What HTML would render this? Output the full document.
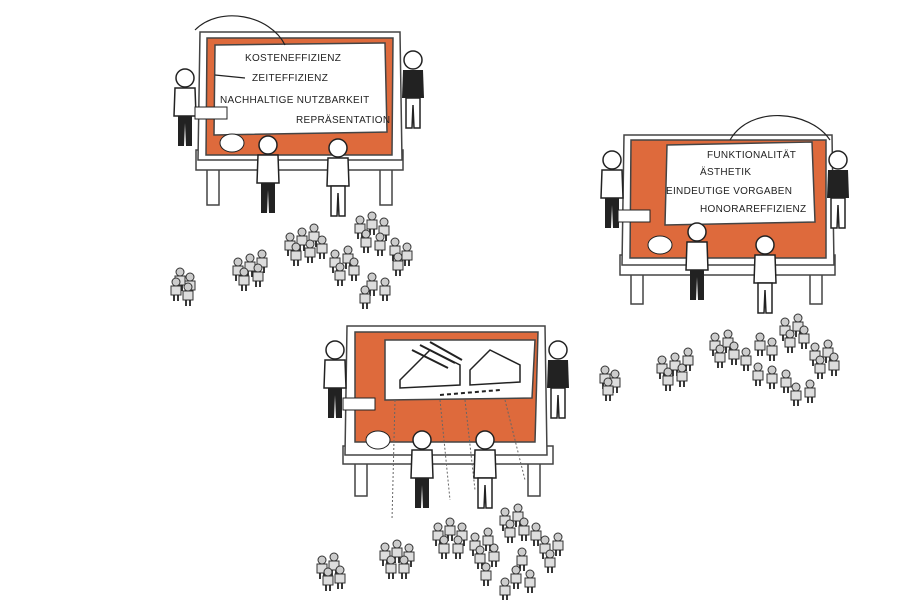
<!DOCTYPE html>
<html><head><meta charset="utf-8"><style>
html,body{margin:0;padding:0;background:#fff;width:900px;height:600px;overflow:hidden}
svg{display:block}
text{font-family:"Liberation Sans",sans-serif;font-size:10px;fill:#222;letter-spacing:0.3px}
</style></head><body>
<svg width="900" height="600" viewBox="0 0 900 600" xmlns="http://www.w3.org/2000/svg">
<defs>
<g id="p"><circle cx="0" cy="-8" r="4" fill="#ccc" stroke="#333" stroke-width="1"/><path d="M-5,-4 L5,-4 L5,5 L-5,5Z" fill="#ddd" stroke="#333" stroke-width="1"/><path d="M-2,5 L-2,11 M2,5 L2,11" stroke="#222" stroke-width="1.8"/></g>
<g id="man"><circle cx="0" cy="-30" r="9" fill="#fff" stroke="#222" stroke-width="1.5"/><path d="M-10,-20 L10,-20 L11,8 L-11,8Z" fill="#fff" stroke="#222" stroke-width="1.5"/><path d="M-7,8 L-7,38 L-1,38 L0,15 L1,38 L7,38 L7,8Z" fill="#222"/></g>
<g id="men"><circle cx="0" cy="-30" r="9" fill="#fff" stroke="#222" stroke-width="1.5"/><path d="M-10,-20 L10,-20 L11,8 L-11,8Z" fill="#fff" stroke="#222" stroke-width="1.5"/><path d="M-7,8 L-7,38 L-1,38 L0,15 L1,38 L7,38 L7,8Z" fill="#fff" stroke="#222" stroke-width="1.5"/></g>
<g id="dark"><circle cx="0" cy="-30" r="9" fill="#fff" stroke="#222" stroke-width="1.5"/><path d="M-10,-20 L10,-20 L11,8 L-11,8Z" fill="#222"/><path d="M-7,8 L-7,38 L-1,38 L0,15 L1,38 L7,38 L7,8Z" fill="#fff" stroke="#222" stroke-width="1.5"/></g>
</defs>

<!-- Board 1 -->
<g stroke="#444" stroke-width="1.5">
<rect x="207" y="165" width="12" height="40" fill="#fff"/><rect x="380" y="165" width="12" height="40" fill="#fff"/>
<rect x="196" y="150" width="207" height="20" fill="#fff"/>
<path d="M200,32 L400,32 L402,160 L198,160Z" fill="#fff"/>
<path d="M207,38 L393,38 L392,155 L206,155Z" fill="#de6a3c"/>
<path d="M215,45 L385,43 L387,132 L214,135Z" fill="#fff"/>
</g>
<text x="245" y="61">KOSTENEFFIZIENZ</text>
<text x="252" y="81">ZEITEFFIZIENZ</text>
<text x="220" y="103">NACHHALTIGE NUTZBARKEIT</text>
<text x="296" y="123">REPRÄSENTATION</text>
<path d="M195,30 C220,5 270,15 285,45" fill="none" stroke="#222" stroke-width="1.2"/>
<path d="M215,75 L245,78" stroke="#222" stroke-width="1.2"/>
<use href="#man" x="185" y="108"/>
<use href="#dark" x="413" y="90"/>
<use href="#man" x="268" y="175"/>
<use href="#men" x="338" y="178"/>
<rect x="195" y="107" width="32" height="12" fill="#fff" stroke="#222"/>
<ellipse cx="232" cy="143" rx="12" ry="9" fill="#fff" stroke="#222"/>

<!-- Board 2 -->
<g stroke="#444" stroke-width="1.5">
<rect x="631" y="270" width="12" height="34" fill="#fff"/><rect x="810" y="270" width="12" height="34" fill="#fff"/>
<rect x="620" y="255" width="215" height="20" fill="#fff"/>
<path d="M624,135 L832,135 L834,265 L622,265Z" fill="#fff"/>
<path d="M631,140 L826,140 L826,258 L630,258Z" fill="#de6a3c"/>
<path d="M667,145 L812,142 L815,222 L665,225Z" fill="#fff"/>
</g>
<text x="707" y="158">FUNKTIONALITÄT</text>
<text x="700" y="175">ÄSTHETIK</text>
<text x="666" y="194">EINDEUTIGE VORGABEN</text>
<text x="700" y="212">HONORAREFFIZIENZ</text>
<path d="M730,140 C750,105 810,110 830,140" fill="none" stroke="#222" stroke-width="1.2"/>
<use href="#man" x="612" y="190"/>
<use href="#dark" x="838" y="190"/>
<use href="#man" x="697" y="262"/>
<use href="#men" x="765" y="275"/>
<rect x="618" y="210" width="32" height="12" fill="#fff" stroke="#222"/>
<ellipse cx="660" cy="245" rx="12" ry="9" fill="#fff" stroke="#222"/>

<!-- Board 3 -->
<g stroke="#444" stroke-width="1.5">
<rect x="355" y="460" width="12" height="36" fill="#fff"/><rect x="528" y="460" width="12" height="36" fill="#fff"/>
<rect x="343" y="446" width="210" height="18" fill="#fff"/>
<path d="M347,326 L545,326 L547,455 L345,455Z" fill="#fff"/>
<path d="M355,332 L538,332 L535,442 L355,442Z" fill="#de6a3c"/>
<path d="M385,340 L535,340 L532,398 L385,400Z" fill="#fff"/>
</g>
<path d="M400,380 L430,350 L460,365 L460,385 L400,388Z M470,370 L490,350 L520,365 L520,382 L470,385Z" fill="none" stroke="#222" stroke-width="1.5"/>
<path d="M412,350 L448,368 M420,345 L455,363 M430,342 L462,360" stroke="#222" stroke-width="2"/>
<path d="M440,395 L500,390" stroke="#222" stroke-width="2" stroke-dasharray="4 3"/>
<path d="M395,400 L392,520 M440,400 L450,500 M465,400 L475,490 M505,400 L525,480" stroke="#666" stroke-dasharray="2 2" fill="none"/>
<use href="#man" x="335" y="380"/>
<use href="#dark" x="558" y="380"/>
<use href="#man" x="422" y="470"/>
<use href="#men" x="485" y="470"/>
<rect x="343" y="398" width="32" height="12" fill="#fff" stroke="#222"/>
<ellipse cx="378" cy="440" rx="12" ry="9" fill="#fff" stroke="#222"/>

<!-- crowds -->
<g>
<use href="#p" x="180" y="280"/><use href="#p" x="190" y="285"/><use href="#p" x="176" y="290"/><use href="#p" x="188" y="295"/>
<use href="#p" x="238" y="270"/><use href="#p" x="250" y="266"/><use href="#p" x="262" y="262"/><use href="#p" x="244" y="280"/><use href="#p" x="258" y="276"/>
<use href="#p" x="290" y="245"/><use href="#p" x="302" y="240"/><use href="#p" x="314" y="236"/><use href="#p" x="296" y="255"/><use href="#p" x="310" y="252"/><use href="#p" x="322" y="248"/>
<use href="#p" x="335" y="262"/><use href="#p" x="348" y="258"/><use href="#p" x="340" y="275"/><use href="#p" x="354" y="270"/>
<use href="#p" x="360" y="228"/><use href="#p" x="372" y="224"/><use href="#p" x="384" y="230"/><use href="#p" x="366" y="242"/><use href="#p" x="380" y="245"/>
<use href="#p" x="395" y="250"/><use href="#p" x="407" y="255"/><use href="#p" x="398" y="265"/><use href="#p" x="372" y="285"/><use href="#p" x="385" y="290"/><use href="#p" x="365" y="298"/>

<use href="#p" x="605" y="378"/><use href="#p" x="615" y="382"/><use href="#p" x="608" y="390"/>
<use href="#p" x="662" y="368"/><use href="#p" x="675" y="365"/><use href="#p" x="688" y="360"/><use href="#p" x="668" y="380"/><use href="#p" x="682" y="376"/>
<use href="#p" x="715" y="345"/><use href="#p" x="728" y="342"/><use href="#p" x="720" y="357"/><use href="#p" x="734" y="354"/><use href="#p" x="746" y="360"/>
<use href="#p" x="760" y="345"/><use href="#p" x="772" y="350"/><use href="#p" x="785" y="330"/><use href="#p" x="798" y="326"/><use href="#p" x="790" y="342"/><use href="#p" x="804" y="338"/>
<use href="#p" x="815" y="355"/><use href="#p" x="828" y="352"/><use href="#p" x="820" y="368"/><use href="#p" x="834" y="365"/>
<use href="#p" x="758" y="375"/><use href="#p" x="772" y="378"/><use href="#p" x="786" y="382"/><use href="#p" x="796" y="395"/><use href="#p" x="810" y="392"/>

<use href="#p" x="322" y="568"/><use href="#p" x="334" y="565"/><use href="#p" x="328" y="580"/><use href="#p" x="340" y="578"/>
<use href="#p" x="385" y="555"/><use href="#p" x="397" y="552"/><use href="#p" x="409" y="556"/><use href="#p" x="391" y="568"/><use href="#p" x="404" y="568"/>
<use href="#p" x="438" y="535"/><use href="#p" x="450" y="530"/><use href="#p" x="462" y="535"/><use href="#p" x="444" y="548"/><use href="#p" x="458" y="548"/>
<use href="#p" x="475" y="545"/><use href="#p" x="488" y="540"/><use href="#p" x="480" y="558"/><use href="#p" x="494" y="556"/><use href="#p" x="486" y="575"/>
<use href="#p" x="505" y="520"/><use href="#p" x="518" y="516"/><use href="#p" x="510" y="532"/><use href="#p" x="524" y="530"/><use href="#p" x="536" y="535"/>
<use href="#p" x="545" y="548"/><use href="#p" x="558" y="545"/><use href="#p" x="550" y="562"/><use href="#p" x="522" y="560"/><use href="#p" x="516" y="578"/><use href="#p" x="530" y="582"/><use href="#p" x="505" y="590"/>
</g>
</svg>
</body></html>
